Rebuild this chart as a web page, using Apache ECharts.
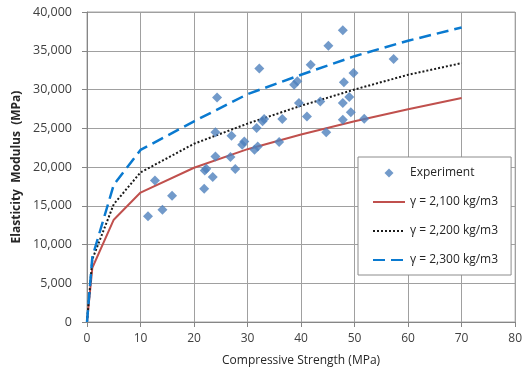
<!DOCTYPE html>
<html>
<head>
<meta charset="utf-8">
<script src="https://cdn.jsdelivr.net/npm/echarts@6.0.0/dist/echarts.min.js"></script>
<style>
  html, body { margin: 0; padding: 0; background: #fff; }
  #chart { width: 525px; height: 373px; }
</style>
</head>
<body>
<div id="chart"></div>
<script>
// experiment points [fc (MPa), E (MPa)]
const experiment = [
  [11.4, 13630], [12.7, 18270], [14.1, 14490], [15.9, 16300], [21.9, 17200],
  [22.0, 19560], [22.3, 19780], [23.5, 18710], [24.0, 21370], [26.8, 21290],
  [27.7, 19740], [29.0, 22880], [29.4, 23300], [31.3, 22230], [31.9, 22660],
  [24.3, 28980], [24.0, 24470], [27.0, 24040], [31.7, 25030], [32.8, 25900],
  [33.1, 26200], [32.2, 32700], [35.9, 23230], [36.5, 26190], [38.7, 30620],
  [39.3, 31050], [39.6, 28260], [41.1, 26530], [41.8, 33200], [43.6, 28460],
  [44.7, 24470], [45.1, 35650], [47.8, 37630], [47.8, 28260], [47.8, 26100],
  [48.0, 30920], [49.0, 29030], [49.3, 27050], [49.8, 32130], [51.8, 26230],
  [57.3, 33940]
];

// model curves
const strength = [0, 1, 5, 10, 20, 30, 40, 50, 60, 70];
const e2100 = [0, 7000, 13200, 16700, 19900, 22300, 24200, 25900, 27450, 28900];
const e2200 = [0, 8100, 15200, 19300, 23000, 25600, 27900, 30000, 31900, 33400];
const e2300 = [0, 8400, 17700, 22200, 25900, 29400, 31900, 34300, 36300, 38000];

const names = ['Experiment', 'γ = 2,100 kg/m3', 'γ = 2,200 kg/m3', 'γ = 2,300 kg/m3'];

const pair = (ys) => strength.map((x, i) => [x, ys[i]]);
const font = 'Open Sans';
const noMarker = { opacity: 0 };

const chart = echarts.init(document.getElementById('chart'), null, { renderer: 'canvas' });

chart.setOption({
  animation: false,
  grid: { left: 87, right: 7, top: 12, bottom: 51, show: true, borderColor: '#a6a6a6', borderWidth: 1 },
  legend: {
    orient: 'vertical',
    left: 358,
    top: 157,
    padding: [10, 13, 9, 14],
    backgroundColor: '#fff',
    borderColor: '#8c8c8c',
    borderWidth: 1,
    itemWidth: 32,
    itemHeight: 9,
    itemGap: 17,
    symbolKeepAspect: true,
    textStyle: { fontFamily: font, fontSize: 12, color: '#262626' },
    data: [
      { name: names[0], icon: 'path://M0,-1L1,0L0,1L-1,0Z' },
      { name: names[1], itemStyle: noMarker },
      { name: names[2], itemStyle: noMarker },
      { name: names[3], itemStyle: noMarker }
    ]
  },
  xAxis: {
    type: 'value',
    min: 0,
    max: 80,
    interval: 10,
    name: 'Compressive Strength (MPa)',
    nameLocation: 'middle',
    nameGap: 33,
    nameTextStyle: { fontFamily: font, fontSize: 12, color: '#262626' },
    axisLine: { lineStyle: { color: '#868686' } },
    axisTick: { show: true, length: 5, lineStyle: { color: '#868686' } },
    axisLabel: { fontFamily: font, fontSize: 12, color: '#404040', margin: 11 },
    splitLine: { lineStyle: { color: '#a0a0a0' } }
  },
  yAxis: {
    type: 'value',
    min: 0,
    max: 40000,
    interval: 5000,
    name: 'Elasticity  Modulus  (MPa)',
    nameLocation: 'middle',
    nameGap: 63,
    nameTextStyle: { fontFamily: font, fontSize: 12, fontWeight: 'bold', color: '#262626' },
    axisLine: { show: true, lineStyle: { color: '#868686' } },
    axisTick: { show: true, length: 5, lineStyle: { color: '#868686' } },
    axisLabel: {
      fontFamily: font, fontSize: 12.5, color: '#404040', margin: 15,
      formatter: (v) => v.toLocaleString('en-US')
    },
    splitLine: { lineStyle: { color: '#a0a0a0' } }
  },
  series: [
    {
      name: names[1],
      type: 'line',
      data: pair(e2100),
      symbol: 'none',
      lineStyle: { color: '#c0504d', width: 2 },
      itemStyle: { color: '#c0504d' }
    },
    {
      name: names[2],
      type: 'line',
      data: pair(e2200),
      symbol: 'none',
      lineStyle: { color: '#1a1a1a', width: 2, type: [2, 2] },
      itemStyle: { color: '#1a1a1a' }
    },
    {
      name: names[3],
      type: 'line',
      data: pair(e2300),
      symbol: 'none',
      lineStyle: { color: '#0a7ad0', width: 2.5, type: [12, 6] },
      itemStyle: { color: '#0a7ad0' }
    },
    {
      name: names[0],
      type: 'scatter',
      data: experiment,
      symbol: 'diamond',
      symbolSize: 10,
      itemStyle: { color: '#4f81bd' },
      z: 3
    }
  ]
});
</script>
</body>
</html>
